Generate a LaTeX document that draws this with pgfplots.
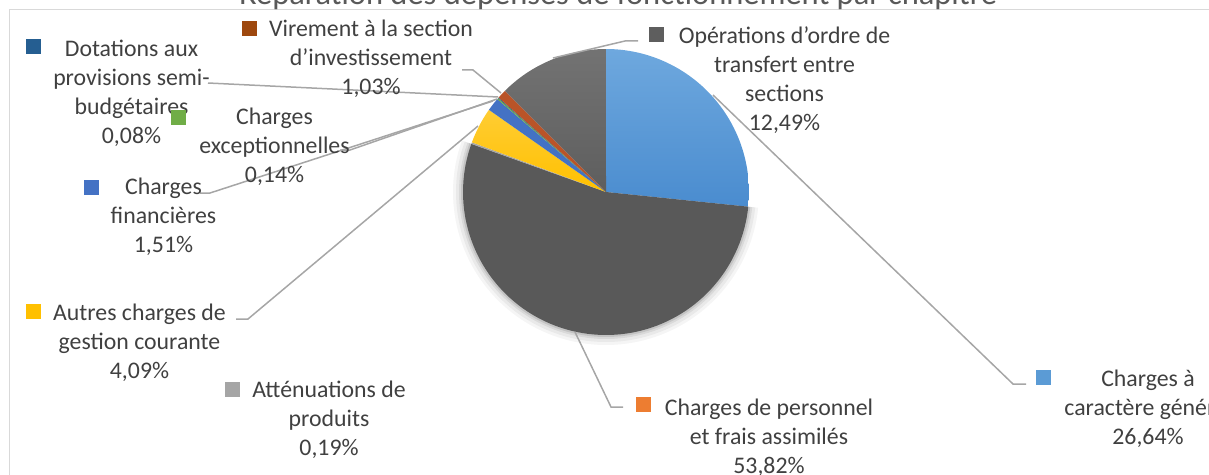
\documentclass[border=0pt]{standalone}
\usepackage{pgfplots}
\pgfplotsset{compat=1.18}
\usepackage{fontspec}
\setmainfont{Carlito}
\definecolor{txt}{HTML}{404040}
\definecolor{ttl}{HTML}{595959}
\definecolor{lead}{HTML}{A6A6A6}
\definecolor{frame}{HTML}{D9D9D9}
\definecolor{cGen}{HTML}{5B9BD5}
\definecolor{cGenT}{HTML}{6EA8DE}
\definecolor{cGenB}{HTML}{4A8CCF}
\definecolor{cPers}{HTML}{ED7D31}
\definecolor{cPersS}{HTML}{595959}
\definecolor{cAtt}{HTML}{A5A5A5}
\definecolor{cAut}{HTML}{FFC000}
\definecolor{cFin}{HTML}{4472C4}
\definecolor{cExc}{HTML}{70AD47}
\definecolor{cDot}{HTML}{255E91}
\definecolor{cVir}{HTML}{9E480E}
\definecolor{cVirS}{HTML}{BA5428}
\definecolor{cOp}{HTML}{5E5E5E}
\definecolor{cOpS}{HTML}{636363}
\newcommand\lblfont{\fontsize{23.8bp}{29bp}\selectfont}
% slice: [radius]{cum start %}{cum end %}{style}
\newcommand\slice[4][143]{\addplot[#4, domain=90-3.6*#3:90-3.6*#2, samples=90, variable=\t] ({606+#1*cos(\t)},{192-#1*sin(\t)}) -- (axis cs:606,192) -- cycle;}
\newcommand\lbl[3]{\node[anchor=north, align=center, inner sep=0pt, font=\lblfont, text=txt] at (axis cs:#1,{#2-20.3}) {\strut #3};}
\begin{document}
\begin{tikzpicture}
\begin{axis}[name=ax, width=1209bp, height=475bp, scale only axis,
  xmin=0, xmax=1209, ymin=0, ymax=475, y dir=reverse, hide axis, clip=false]
% frame
\addplot[draw=frame, line width=1.5bp] coordinates {(9.5,475) (9.5,9.5) (1209,9.5)};
% title (clipped at the top of the picture)
\node[anchor=base, inner sep=0pt, font=\fontsize{32.5bp}{39bp}\selectfont, text=ttl] at (axis cs:618,4.5) {Réparation des dépenses de fonctionnement par chapitre};
% soft shadow of the large slice
\slice[153]{26.64}{80.46}{fill=black, fill opacity=0.04, draw=none}
\slice[150]{26.64}{80.46}{fill=black, fill opacity=0.05, draw=none}
\slice[147]{26.64}{80.46}{fill=black, fill opacity=0.07, draw=none}
\slice[145]{26.64}{80.46}{fill=black, fill opacity=0.10, draw=none}
% slices (cumulative percentages)
% 26.64  53.82  0.19  4.09  1.51  0.14  0.08  1.03  12.49
\slice{0}{26.64}{top color=cGenT, bottom color=cGenB, draw=none}
\slice{26.64}{80.46}{fill=cPersS, draw=none}
\slice{80.46}{80.65}{fill=cAtt, draw=none}
\slice{80.65}{84.74}{top color=cAut!80!white, bottom color=cAut, draw=none}
\slice{84.74}{86.25}{fill=cFin, draw=none}
\slice{86.25}{86.39}{fill=cExc, draw=none}
\slice{86.39}{86.47}{fill=cDot, draw=none}
\slice{86.47}{87.50}{fill=cVirS, draw=none}
\slice{87.50}{99.99}{top color=cOpS!90!white, bottom color=cOp, draw=none}
% leader lines
\addplot[draw=lead, line width=1.5bp] coordinates {(713,95) (1013,384) (1026,384)};
\addplot[draw=lead, line width=1.5bp] coordinates {(575,332) (611,407) (623,407)};
\addplot[draw=lead, line width=1.5bp] coordinates {(478,126) (248,319) (236,319)};
\addplot[draw=lead, line width=1.5bp] coordinates {(493,101) (210,193) (200,193)};
\addplot[draw=lead, line width=1.5bp] coordinates {(497,99) (350,150) (340,150)};
\addplot[draw=lead, line width=1.5bp] coordinates {(498,97) (208,83)};
\addplot[draw=lead, line width=1.5bp] coordinates {(501,93) (473,70) (462,70)};
\addplot[draw=lead, line width=1.5bp] coordinates {(553,58) (625,41) (638,41)};
% legend keys
\addplot[only marks, mark=square*, mark size=7bp, color=cGen] coordinates {(1043.5,377)};
\addplot[only marks, mark=square*, mark size=7bp, color=cPers] coordinates {(643,404.5)};
\addplot[only marks, mark=square*, mark size=7bp, color=cAtt] coordinates {(232,389)};
\addplot[only marks, mark=square*, mark size=7bp, color=cAut] coordinates {(33,311)};
\addplot[only marks, mark=square*, mark size=7bp, color=cFin] coordinates {(91,187)};
\addplot[only marks, mark=square*, mark size=7bp, color=cExc] coordinates {(178,117)};
\addplot[only marks, mark=square*, mark size=7bp, color=cDot] coordinates {(33,46.5)};
\addplot[only marks, mark=square*, mark size=7bp, color=cVir] coordinates {(249,28.5)};
\addplot[only marks, mark=square*, mark size=7bp, color=cOp] coordinates {(656.5,34.5)};
% data labels
\lbl{1148}{386}{Charges à\\caractère général\\26,64\%}
\lbl{769}{415}{Charges de personnel\\et frais assimilés\\53,82\%}
\lbl{329}{397}{Atténuations de\\produits\\0,19\%}
\lbl{139.5}{320}{Autres charges de\\gestion courante\\4,09\%}
\lbl{163.5}{194}{Charges\\financières\\1,51\%}
\lbl{274.5}{124}{Charges\\exceptionnelles\\0,14\%}
\lbl{131.5}{56}{Dotations aux\\provisions semi-\\budgétaires\\0,08\%}
\lbl{371}{36}{Virement à la section\\d’investissement\\1,03\%}
\lbl{784.5}{43}{Opérations d’ordre de\\transfert entre\\sections\\12,49\%}
\end{axis}
\pgfresetboundingbox
\path (ax.south west) rectangle (ax.north east);
\end{tikzpicture}
\end{document}
